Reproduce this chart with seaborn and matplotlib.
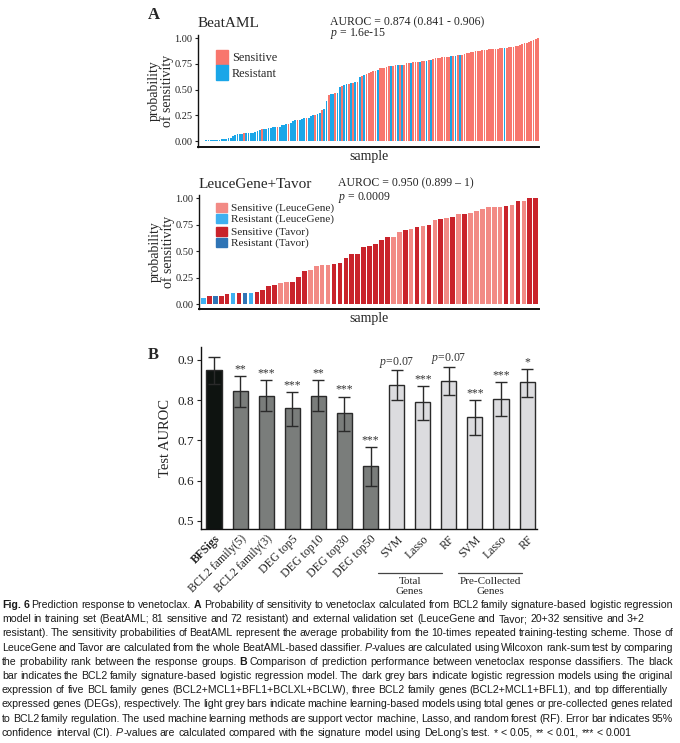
import numpy as np
import pandas as pd
import seaborn as sns
import matplotlib.pyplot as plt
from matplotlib.patches import Patch

# ---------------- data ----------------
# Panel A (top): BeatAML, sorted probability of sensitivity
beat_prob = [
    0.003, 0.004, 0.005,
    0.010, 0.010, 0.011, 0.012, 0.012, 0.013, 0.014, 0.015, 0.016, 0.018,
    0.025, 0.032,
    0.050, 0.060, 0.068,
    0.072, 0.073, 0.074, 0.075, 0.075, 0.076, 0.078,
    0.088, 0.095,
    0.108, 0.112,
    0.118, 0.120, 0.122, 0.125,
    0.132, 0.134, 0.136, 0.138,
    0.155, 0.160, 0.163,
    0.170, 0.178,
    0.195, 0.200, 0.202, 0.205,
    0.218, 0.222, 0.225, 0.228,
    0.240, 0.248, 0.255, 0.265, 0.275,
    0.300, 0.310,
    0.390,
    0.450, 0.455, 0.460, 0.465, 0.470,
    0.525, 0.535, 0.540,
    0.550, 0.555, 0.560, 0.565, 0.572, 0.578,
    0.620, 0.630, 0.640,
    0.650, 0.660, 0.670, 0.680, 0.685, 0.690,
    0.705, 0.710, 0.712, 0.715,
    0.728, 0.730, 0.732, 0.735, 0.736, 0.738, 0.740, 0.742,
    0.755, 0.760, 0.762, 0.765, 0.768, 0.770, 0.772,
    0.778, 0.780, 0.782, 0.785, 0.788, 0.792,
    0.805, 0.808, 0.810, 0.812, 0.815, 0.818, 0.820,
    0.825, 0.828, 0.830, 0.832, 0.835, 0.840,
    0.848, 0.852, 0.856, 0.860, 0.865, 0.870, 0.872, 0.876, 0.880,
    0.885, 0.888, 0.890, 0.892, 0.894, 0.896, 0.898, 0.900, 0.902,
    0.905, 0.908, 0.912, 0.915, 0.918, 0.922, 0.926, 0.930,
    0.940, 0.948, 0.955, 0.962, 0.970, 0.978, 0.988, 1.000,
]
# S = sensitive, R = resistant (same order as beat_prob)
beat_group = ("RRRRRRRRRR" "RRRRRRRRRR" "SRRRRRRRSR" "RRRRRSRRRR" "SRRRSRRRSR"
              "RRSRRSRRSR" "RSRRSRRSRS" "RSRSRSSSSS" "RSSSSSRSSR" "SRSSSRSSSR"
              "SSRSRSSSSS" "SSSRSRSRSS" "SSSSSSSSSS" "SSSSSSSRSS" "SSSSSSSSSS"
              "SSS")

# Panel A (bottom): LeuceGene + Tavor
val_prob = [
    0.057, 0.072, 0.072, 0.079, 0.094, 0.104, 0.107, 0.107, 0.107, 0.110,
    0.130, 0.167, 0.180, 0.195, 0.204, 0.210, 0.260, 0.310, 0.320, 0.355,
    0.365, 0.370, 0.375, 0.387, 0.434, 0.470, 0.470, 0.535, 0.550, 0.563,
    0.607, 0.632, 0.632, 0.682, 0.695, 0.710, 0.730, 0.736, 0.748, 0.790,
    0.800, 0.808, 0.824, 0.846, 0.846, 0.858, 0.880, 0.900, 0.915, 0.915,
    0.920, 0.928, 0.940, 0.977, 0.977, 1.000, 1.000,
]
# LS/LR = LeuceGene sensitive/resistant, TS/TR = Tavor sensitive/resistant
val_group = [
    "LR", "TS", "TR", "TS", "TS", "LR", "TS", "TR", "LR", "TS",
    "TS", "TS", "TS", "LS", "LS", "TS", "TS", "TS", "LS", "LS",
    "LS", "LS", "TS", "TS", "TS", "TS", "TS", "TS", "TS", "TS",
    "TS", "TS", "LS", "LS", "TS", "LS", "TS", "LS", "TS", "LS",
    "TS", "LS", "TS", "LS", "TS", "LS", "LS", "LS", "LS", "LS",
    "LS", "TS", "LS", "TS", "LS", "TS", "TS",
]

# Panel B: test AUROC with 95% CI
model_keys = ["BFSigs", "BCL2 family(5)", "BCL2 family(3)", "DEG top5", "DEG top10",
              "DEG top30", "DEG top50", "Total SVM", "Total Lasso", "Total RF",
              "PC SVM", "PC Lasso", "PC RF"]
model_labels = ["BFSigs", "BCL2 family(5)", "BCL2 family(3)", "DEG top5", "DEG top10",
                "DEG top30", "DEG top50", "SVM", "Lasso", "RF", "SVM", "Lasso", "RF"]
auroc = [0.874, 0.822, 0.811, 0.780, 0.811, 0.767, 0.637, 0.838, 0.795, 0.848, 0.757, 0.802, 0.844]
ci_low = [0.841, 0.784, 0.772, 0.737, 0.772, 0.724, 0.588, 0.801, 0.751, 0.813, 0.713, 0.761, 0.807]
ci_high = [0.906, 0.861, 0.850, 0.820, 0.850, 0.809, 0.683, 0.874, 0.835, 0.882, 0.800, 0.844, 0.878]
signif = ["", "**", "***", "***", "**", "***", "***", "$p$=0.07", "***", "$p$=0.07", "***", "***", "*"]
model_type = ["sig", "lr", "lr", "lr", "lr", "lr", "lr", "ml", "ml", "ml", "ml", "ml", "ml"]

# ---------------- style ----------------
sns.set_theme(style="ticks")
plt.rcParams['font.family'] = ['Liberation Serif', 'DejaVu Serif']
plt.rcParams['mathtext.fontset'] = 'custom'
plt.rcParams['mathtext.rm'] = 'Liberation Serif'
plt.rcParams['mathtext.it'] = 'Liberation Serif:italic'
plt.rcParams['axes.linewidth'] = 1.0
plt.rcParams['axes.edgecolor'] = '#111111'

W, H = 680, 743
fig = plt.figure(figsize=(W / 100, H / 100), dpi=100)


def axes_px(left, top, right, bottom):
    return fig.add_axes([left / W, 1 - bottom / H, (right - left) / W, (bottom - top) / H])


def style_prob_axis(ax, ylow):
    ax.set_ylim(ylow, 1.03)
    ax.set_yticks([0, 0.25, 0.5, 0.75, 1.0])
    ax.set_yticklabels(["0.00", "0.25", "0.50", "0.75", "1.00"])
    ax.set_xticks([])
    ax.tick_params(axis='y', labelsize=7.5, length=2.5, width=0.8, pad=1.5, colors='#222222')
    ax.set_xlabel("sample", fontsize=10, labelpad=2)
    ax.set_ylabel("probability\nof sensitivity", fontsize=10, labelpad=0.5, linespacing=0.95)
    sns.despine(ax=ax)
    ax.spines['bottom'].set_linewidth(1.4)


# ---------------- panel A top ----------------
ax1 = axes_px(198, 35, 539, 147)
df1 = pd.DataFrame({"sample": [str(i) for i in range(len(beat_prob))],
                    "prob": beat_prob,
                    "group": ["Sensitive" if g == "S" else "Resistant" for g in beat_group]})
pal1 = {"Sensitive": "#F8766D", "Resistant": "#1AA6E8"}
sns.barplot(data=df1, x="sample", y="prob", hue="group", palette=pal1, width=0.8,
            saturation=1, linewidth=0, legend=False, ax=ax1)
ax1.set_xlim(-0.7, len(beat_prob) - 0.5)
style_prob_axis(ax1, -0.058)
ax1.legend(handles=[Patch(color=pal1["Sensitive"], label="Sensitive"),
                    Patch(color=pal1["Resistant"], label="Resistant")],
           loc="upper left", bbox_to_anchor=(0.053, 0.87), frameon=False, fontsize=8.8,
           handlelength=0.95, handleheight=1.55, labelspacing=0.0, handletextpad=0.35,
           borderpad=0, borderaxespad=0)
ax1.text(0, 1.107, "BeatAML", transform=ax1.transAxes, fontsize=11, va="center", ha="left")
ax1.text(0.387, 1.116, "AUROC = 0.874 (0.841 - 0.906)", transform=ax1.transAxes,
         fontsize=8.5, va="center", ha="left")
ax1.text(0.387, 1.009, "$p$ = 1.6e-15", transform=ax1.transAxes,
         fontsize=8.5, va="center", ha="left")

# ---------------- panel A bottom ----------------
ax2 = axes_px(199, 195, 539, 309)
df2 = pd.DataFrame({"sample": [str(i) for i in range(len(val_prob))],
                    "prob": val_prob, "group": val_group})
pal2 = {"LS": "#F28A85", "LR": "#3FB0F0", "TS": "#C9232B", "TR": "#2F74B5"}
sns.barplot(data=df2, x="sample", y="prob", hue="group", palette=pal2, width=0.78,
            saturation=1, linewidth=0, legend=False, ax=ax2)
ax2.set_xlim(-0.75, len(val_prob) - 0.45)
style_prob_axis(ax2, -0.047)
leg_a = ax2.legend(handles=[Patch(color=pal2["LS"], label="Sensitive (LeuceGene)"),
                            Patch(color=pal2["LR"], label="Resistant (LeuceGene)")],
                   loc="upper left", bbox_to_anchor=(0.05, 0.93), frameon=False, fontsize=8.1,
                   handlelength=0.95, handleheight=0.8, labelspacing=0.05, handletextpad=0.4,
                   borderpad=0, borderaxespad=0)
ax2.add_artist(leg_a)
ax2.legend(handles=[Patch(color=pal2["TS"], label="Sensitive (Tavor)"),
                    Patch(color=pal2["TR"], label="Resistant (Tavor)")],
           loc="upper left", bbox_to_anchor=(0.05, 0.72), frameon=False, fontsize=8.1,
           handlelength=0.95, handleheight=0.8, labelspacing=0.05, handletextpad=0.4,
           borderpad=0, borderaxespad=0)
ax2.text(0, 1.088, "LeuceGene+Tavor", transform=ax2.transAxes, fontsize=11, va="center", ha="left")
ax2.text(0.409, 1.105, "AUROC = 0.950 (0.899 \u2013 1)", transform=ax2.transAxes,
         fontsize=8.5, va="center", ha="left")
ax2.text(0.409, 0.974, "$p$ = 0.0009", transform=ax2.transAxes,
         fontsize=8.5, va="center", ha="left")

# ---------------- panel B ----------------
ax3 = axes_px(201, 347, 537, 529)
df3 = pd.DataFrame({"model": model_keys, "auroc": auroc, "type": model_type})
bar_cols = {"sig": "#0E1310", "lr": "#7A7D7B", "ml": "#DCDCDF"}
sns.barplot(data=df3, x="model", y="auroc", hue="model",
            palette=[bar_cols[t] for t in model_type], width=0.58, saturation=1,
            edgecolor="#2a2a2a", linewidth=1.0, legend=False, ax=ax3)
xpos = np.arange(len(model_keys))
ax3.errorbar(xpos, auroc,
             yerr=[np.array(auroc) - np.array(ci_low), np.array(ci_high) - np.array(auroc)],
             fmt="none", ecolor="#2a2a2a", elinewidth=1.0, capsize=4.3, capthick=1.0)
for x, hi, s in zip(xpos, ci_high, signif):
    if s:
        ax3.annotate(s, (x, hi), xytext=(0, 0.5), textcoords="offset points",
                     ha="center", va="bottom", fontsize=8.5, color="#333333")
ax3.set_ylim(0.48, 0.932)
ax3.set_xlim(-0.5, len(model_keys) - 0.62)
ax3.set_yticks([0.5, 0.6, 0.7, 0.8, 0.9])
ax3.set_yticklabels(["0.5", "0.6", "0.7", "0.8", "0.9"])
ax3.tick_params(axis='y', labelsize=9.5, length=3, width=0.8, pad=2, colors='#222222')
ax3.tick_params(axis='x', length=0, pad=3)
ax3.set_xticks(xpos)
ax3.set_xticklabels(model_labels, rotation=45, ha="right", rotation_mode="anchor", fontsize=8.5)
ax3.get_xticklabels()[0].set_fontweight("bold")
ax3.set_xlabel("")
ax3.set_ylabel("Test AUROC", fontsize=10.5, labelpad=4)
sns.despine(ax=ax3)

# model group brackets under the ML bars
trans = ax3.get_xaxis_transform()
for x0, x1, xc, name in [(6.3, 8.75, 7.5, "Total\nGenes"), (9.35, 11.8, 10.6, "Pre-Collected\nGenes")]:
    ax3.plot([x0, x1], [-0.242, -0.242], transform=trans, color="#444444", lw=0.9, clip_on=False)
    ax3.text(xc, -0.262, name, transform=trans, ha="center", va="top", fontsize=8,
             linespacing=1.15)

# panel letters
fig.text(148 / W, 1 - 15 / H, "A", fontsize=12, fontweight="bold", va="center", ha="left")
fig.text(148 / W, 1 - 355 / H, "B", fontsize=12, fontweight="bold", va="center", ha="left")

# ---------------- caption ----------------
caption_lines = [
    ([("Fig. 6", "b"), (" Prediction response to venetoclax. ", "n"), ("A", "b"),
      (" Probability of sensitivity to venetoclax calculated from BCL2 family signature-based logistic regression", "n")], True),
    ([("model in training set (BeatAML; 81 sensitive and 72 resistant) and external validation set (LeuceGene and Tavor; 20+32 sensitive and 3+2", "n")], False),
    ([("resistant). The sensitivity probabilities of BeatAML represent the average probability from the 10-times repeated training-testing scheme. Those of", "n")], True),
    ([("LeuceGene and Tavor are calculated from the whole BeatAML-based classifier. ", "n"), ("P", "i"),
      ("-values are calculated using Wilcoxon rank-sum test by comparing", "n")], True),
    ([("the probability rank between the response groups. ", "n"), ("B", "b"),
      (" Comparison of prediction performance between venetoclax response classifiers. The black", "n")], True),
    ([("bar indicates the BCL2 family signature-based logistic regression model. The dark grey bars indicate logistic regression models using the original", "n")], True),
    ([("expression of five BCL family genes (BCL2+MCL1+BFL1+BCLXL+BCLW), three BCL2 family genes (BCL2+MCL1+BFL1), and top differentially", "n")], False),
    ([("expressed genes (DEGs), respectively. The light grey bars indicate machine learning-based models using total genes or pre-collected genes related", "n")], True),
    ([("to BCL2 family regulation. The used machine learning methods are support vector machine, Lasso, and random forest (RF). Error bar indicates 95%", "n")], True),
    ([("confidence interval (CI). ", "n"), ("P", "i"),
      ("-values are calculated compared with the signature model using DeLong\u2019s test. * < 0.05, ** < 0.01, *** < 0.001", "n")], False),
]

cap_family = ['Liberation Sans Narrow', 'Liberation Sans', 'DejaVu Sans']
cap_size = 7.6
renderer = fig.canvas.get_renderer()
styles = {"n": ("normal", "normal"), "b": ("bold", "normal"), "i": ("normal", "italic")}


def make_text(s, st, x_px, y_px):
    w_, s_ = styles[st]
    return fig.text(x_px / W, 1 - y_px / H, s, fontsize=cap_size, family=cap_family,
                    fontweight=w_, fontstyle=s_, va="baseline", ha="left", color="#1a1a1a")


tmp = make_text("x x", "n", 0, 0)
w_xx = tmp.get_window_extent(renderer).width
tmp.remove()
tmp = make_text("xx", "n", 0, 0)
space_w = w_xx - tmp.get_window_extent(renderer).width
tmp.remove()

cap_left, cap_right = 2, 673
for k, (runs, justify) in enumerate(caption_lines):
    y = 608 + 14.2 * k
    words, cur = [], []
    for text, st in runs:
        for i, part in enumerate(text.split(" ")):
            if i > 0 and cur:
                words.append(cur)
                cur = []
            if part:
                cur.append((part, st))
    if cur:
        words.append(cur)
    placed = []
    for word in words:
        segs = []
        for part, st in word:
            t = make_text(part, st, 0, y)
            segs.append((t, t.get_window_extent(renderer).width))
        placed.append(segs)
    total = sum(w for segs in placed for _, w in segs)
    gap = (cap_right - cap_left - total) / (len(placed) - 1) if justify else space_w
    x = cap_left
    for segs in placed:
        for t, w in segs:
            t.set_x(x / W)
            x += w
        x += gap

fig.savefig("out.png", dpi=100)
